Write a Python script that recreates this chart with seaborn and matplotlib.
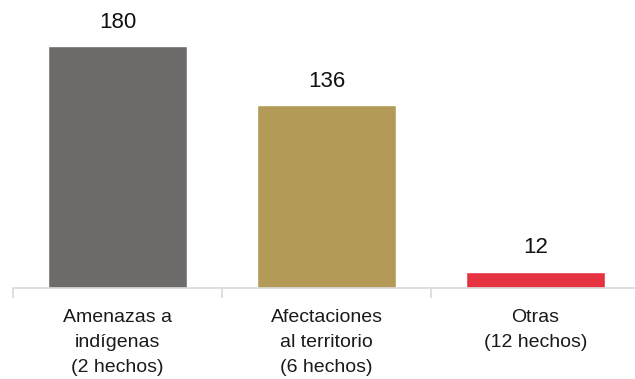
import matplotlib
matplotlib.use("Agg")
import matplotlib.pyplot as plt
import seaborn as sns
import pandas as pd

categories = ["Amenazas a\nindígenas\n(2 hechos)",
              "Afectaciones\nal territorio\n(6 hechos)",
              "Otras\n(12 hechos)"]
values = [180, 136, 12]
colors = ["#6d6c6a", "#b39b57", "#e63342"]

sns.set_theme(style="white")
plt.rcParams["font.family"] = ["Liberation Sans", "DejaVu Sans"]

df = pd.DataFrame({"categoria": categories, "valor": values})

fig = plt.figure(figsize=(6.35, 3.79), dpi=100)
ax = fig.add_axes([13 / 635, 91 / 379, 627 / 635, 288 / 379])

sns.barplot(data=df, x="categoria", y="valor", hue="categoria",
            palette=colors, width=0.665, ax=ax, legend=False, saturation=1)

ax.set_ylim(0, 288 / (242 / 180))
ax.set_xlim(-0.5, 2.5)
ax.set_xlabel("")
ax.set_ylabel("")
ax.set_yticks([])

for side in ["top", "right", "left"]:
    ax.spines[side].set_visible(False)
ax.spines["bottom"].set_color("#d9d9d9")
ax.spines["bottom"].set_linewidth(1.2)

ax.set_xticks(range(len(categories)))
ax.set_xticklabels(categories, fontsize=14, color="#1a1a1a", linespacing=1.62)
ax.tick_params(axis="x", which="major", length=0, pad=15)
ax.set_xticks([-0.5, 0.5, 1.5, 2.5], minor=True)
ax.tick_params(axis="x", which="minor", length=7, width=1.2,
               color="#d9d9d9", direction="out", bottom=True)

for i, v in enumerate(values):
    ax.text(i, v + 10, str(v), ha="center", va="bottom",
            fontsize=16, color="#111111")

fig.savefig("out.png", dpi=100)
